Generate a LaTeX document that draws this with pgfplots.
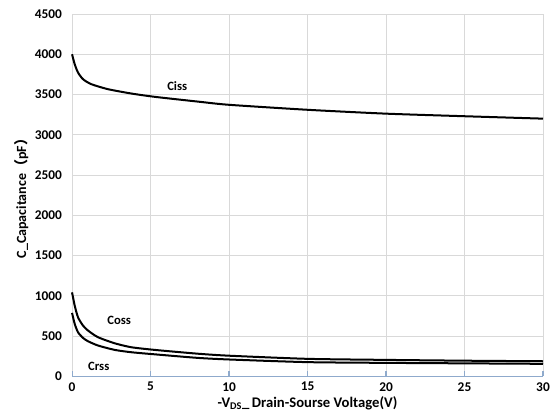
\documentclass[border=0pt]{standalone}
\usepackage{pgfplots}
\pgfplotsset{compat=1.18}
\usepackage{fontspec}
\setmainfont{Carlito}
\newfontfamily\cjk{Noto Sans CJK SC}
\definecolor{gridc}{HTML}{D9D9D9}
\definecolor{axc}{HTML}{8FAACC}
\begin{document}
\begin{tikzpicture}
\begin{axis}[
  scale only axis,
  width=353pt, height=271.5pt,
  xmin=0, xmax=30, ymin=0, ymax=4500,
  xtick={0,5,...,30}, ytick={0,500,...,4500},
  grid=major,
  major grid style={gridc, line width=0.6pt},
  axis line style={draw=none},
  axis x line*=bottom, axis y line*=left,
  x axis line style={draw=axc, line width=0.8pt},
  y axis line style={draw=none},
  xtick style={axc, line width=0.8pt},
  major tick length=4pt,
  xtick pos=bottom, ytick style={draw=none},
  tick label style={font=\fontsize{10}{11}\selectfont\bfseries},
  /pgf/number format/assume math mode=true,
  /pgf/number format/1000 sep={},
  xticklabel style={yshift=-1pt},
  yticklabel style={xshift=-4pt},
  xlabel={\bfseries -V\textsubscript{DS}\_\,Drain-Sourse Voltage(V)},
  ylabel={\bfseries C\_Capacitance{\cjk（}pF{\cjk）}},
  xlabel style={font=\fontsize{11}{12}\selectfont, yshift=3pt},
  ylabel style={font=\fontsize{10.5}{12}\selectfont, yshift=-2pt},
  clip=false,
]
\addplot[black, line width=1.5pt, smooth, tension=0.4] coordinates {
(0,4000) (0.17,3876) (0.38,3773) (0.7,3690) (1.23,3628) (2.29,3566) (3.78,3512) (5.27,3471) (8.1,3410) (10,3372) (15,3310) (20,3262) (25,3230) (30,3200)};
\addplot[black, line width=1.5pt, smooth, tension=0.4] coordinates {
(0,1042) (0.17,877) (0.38,732) (0.7,629) (1.02,567) (1.66,484) (2.72,409) (3.78,360) (5.27,327) (8,280) (10,255) (15,216) (20,203) (25,193) (30,186)};
\addplot[black, line width=1.5pt, smooth, tension=0.4] coordinates {
(0,787) (0.17,650) (0.38,546) (0.7,476) (1.02,434) (1.66,381) (2.72,327) (3.78,298) (5.27,272) (8,228) (10,208) (15,175) (20,166) (25,160) (30,154)};
\node[font=\fontsize{9.5}{10}\selectfont\bfseries] at (axis cs:6.7,3610) {Ciss};
\node[font=\fontsize{9.5}{10}\selectfont\bfseries] at (axis cs:3.0,690) {Coss};
\node[font=\fontsize{9.5}{10}\selectfont\bfseries] at (axis cs:1.7,120) {Crss};
\end{axis}
\pgfresetboundingbox
\path[use as bounding box] ([shift={(-54pt,-30.75pt)}]current axis.south west) rectangle ([shift={(12pt,10.5pt)}]current axis.north east);
\end{tikzpicture}
\end{document}
